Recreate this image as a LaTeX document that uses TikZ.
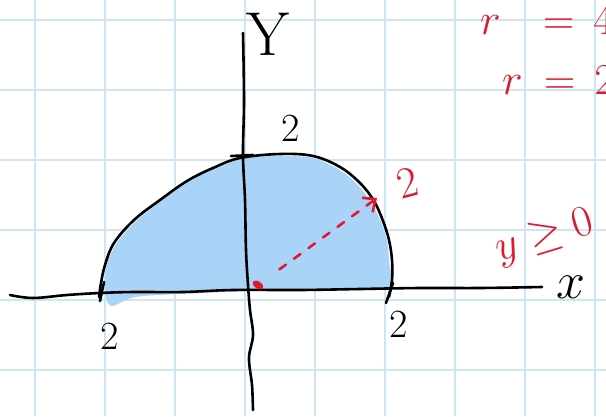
\RequirePackage{fix-cm}
\documentclass[tikz,border=0pt]{standalone}
\usetikzlibrary{arrows.meta,calc}
\definecolor{gridblue}{RGB}{206,229,246}
\definecolor{fillblue}{RGB}{170,212,247}
\definecolor{inkred}{RGB}{222,26,46}
\begin{document}
\begin{tikzpicture}[x=1pt,y=-1pt,
  ink/.style={line width=2.6pt,line cap=round,line join=round},
  gridline/.style={gridblue,line width=1.6pt},
  blacklabel/.style={font=\fontsize{40}{40}\selectfont},
  redlabel/.style={inkred,font=\fontsize{44}{44}\selectfont}]
\useasboundingbox (0,0) rectangle (606,416);
\clip (0,0) rectangle (606,416);
\fill[white] (0,0) rectangle (606,416);
% grid
\foreach \x in {35,105,...,595} \draw[gridline] (\x,0) -- (\x,416);
\foreach \y in {20,90,...,370} \draw[gridline] (0,\y) -- (606,\y);
% shaded region
\fill[fillblue] plot[smooth cycle, tension=0.5] coordinates {
  (106,296) (106,268) (116,244) (136,221) (161,201) (188,182) (214,169) (245,158)
  (282,156) (313,158) (338,169) (357,184) (371,202) (381,222) (387,241) (389,262)
  (389,288) (330,289) (250,291) (180,294) (135,297) (112,306)};
% axes
\draw[ink] plot[smooth, tension=0.6] coordinates {
  (10,295) (33,298) (67,295) (100,293) (133,292) (183,292) (233,290) (300,290)
  (360,289) (420,288) (480,288) (542,287)};
\draw[ink] plot[smooth, tension=0.6] coordinates {
  (243,33) (244,100) (243,155) (245,200) (246,250) (248,285) (250,310)
  (253,335) (249,358) (252,385) (253,410)};
% boundary curve
\draw[ink] plot[smooth, tension=0.6] coordinates {
  (99,297) (101,283) (105,265) (114,243) (134,220) (160,200) (187,181) (213,168)
  (240,158) (280,154) (313,156) (340,167) (360,183) (374,201) (383,221) (389,240)
  (392,260) (392,280) (389,297)};
% ticks
\draw[ink] (231,156) -- (253,155);
\draw[ink] (104,282) -- (100,301);
\draw[ink] (393,283) -- (386,303);
% origin dot and radius arrow
\coordinate (O) at (258,285);
\coordinate (T) at (377,198);
\fill[inkred, rotate around={-35:(O)}] (O) ellipse (6pt and 3.5pt);
\draw[inkred, line width=2.6pt, line cap=round, dash pattern=on 8pt off 10pt,
  -{Straight Barb[length=10pt,width=18pt,line width=2.6pt]}] ($(O)!0.18!(T)$) -- (T);
% labels
\node[font=\fontsize{62}{62}\selectfont] (ylab) at (268,34) {Y};
\node[font=\fontsize{52}{52}\selectfont] (xlab) at (571,287) {$x$};
\node[blacklabel] (top2) at (291,128) {2};
\node[blacklabel] (left2) at (110,336) {2};
\node[blacklabel] (right2) at (399,324) {2};
\node[redlabel, rotate=15] (red2) at (407,183) {2};
\node[redlabel, anchor=base west, inner sep=0pt] (r1) at (480,34) {$r$\hspace{42pt}$=$\hspace{19pt}$4$};
\node[redlabel, anchor=base west, inner sep=0pt] (r2) at (502,94) {$r$\hspace{21pt}$=$\hspace{19pt}$2$};
\node[redlabel, anchor=base west, rotate=17, inner sep=0pt] (ypos) at (499,262) {$y\geq0$};
\end{tikzpicture}
\end{document}
